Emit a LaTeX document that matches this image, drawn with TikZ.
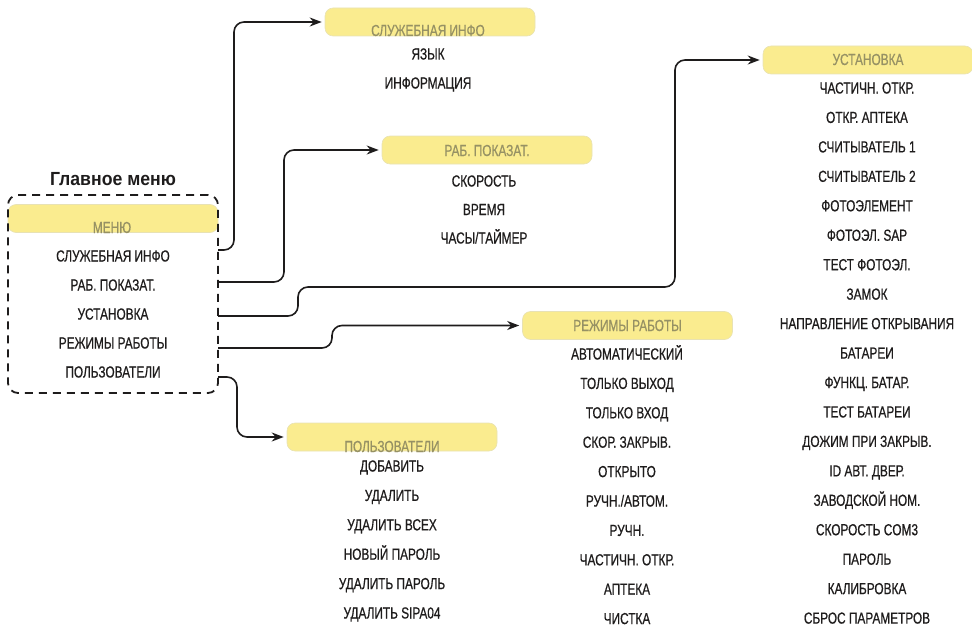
\documentclass[tikz,border=0pt]{standalone}
\usepackage{fontspec}
\setmainfont{Liberation Sans}[FakeStretch=0.74, FakeBold=0.6]
\newfontfamily\titlefont{Liberation Sans}[FakeStretch=0.93]
\usetikzlibrary{arrows.meta}
\definecolor{ybox}{RGB}{250,236,143}
\definecolor{yline}{RGB}{232,226,180}
\definecolor{htext}{RGB}{150,145,100}
\definecolor{itext}{RGB}{30,28,28}
\begin{document}
\begin{tikzpicture}[x=1pt,y=-1pt,
  hdr/.style={draw=yline, fill=ybox, rounded corners=8pt, minimum width=210pt, minimum height=28pt, inner sep=0pt, line width=0.6pt},
  hdrtext/.style={text=htext, font=\fontsize{16}{19}\selectfont, inner sep=0pt, anchor=base},
  item/.style={text=itext, font=\fontsize{16}{19}\selectfont, inner sep=0pt, anchor=base},
  conn/.style={draw=itext, line width=1.6pt, rounded corners=10pt, shorten >=3pt, -{Stealth[length=12pt,width=9pt]}},
  mainbox/.style={draw=itext, line width=1.8pt, dash pattern=on 8pt off 6pt, rounded corners=10pt, minimum width=210pt, minimum height=198pt, inner sep=0pt},
]
\useasboundingbox (0,0) rectangle (972,626);
% title
\node[text=itext, font=\titlefont\bfseries\fontsize{19}{22}\selectfont, inner sep=0pt, anchor=base] (title) at (113,185) {Главное меню};
% header boxes
\node[hdr] (b0) at (113,218.5) {};
\node[hdr] (b1) at (430,22) {};
\node[hdr] (b2) at (487,150) {};
\node[hdr] (b3) at (868,60) {};
\node[hdr] (b4) at (627.5,325.5) {};
\node[hdr] (b5) at (392,437) {};
\node[hdrtext] (h0) at (112,233) {МЕНЮ};
\node[hdrtext] (h1) at (428,36) {СЛУЖЕБНАЯ ИНФО};
\node[hdrtext] (h2) at (487,156) {РАБ. ПОКАЗАТ.};
\node[hdrtext] (h3) at (868,65) {УСТАНОВКА};
\node[hdrtext] (h4) at (627.5,331) {РЕЖИМЫ РАБОТЫ};
\node[hdrtext] (h5) at (392,452) {ПОЛЬЗОВАТЕЛИ};
% main dashed box
\node[mainbox] (main) at (113,294) {};
% main items
\foreach \t [count=\i from 0] in {СЛУЖЕБНАЯ ИНФО, РАБ. ПОКАЗАТ., УСТАНОВКА, РЕЖИМЫ РАБОТЫ, ПОЛЬЗОВАТЕЛИ}
  \node[item] (m\i) at (113,{261.5+29*\i}) {\t};
% sub lists
\foreach \t [count=\i from 0] in {ЯЗЫК, ИНФОРМАЦИЯ}
  \node[item] (s\i) at (428,{59.5+29*\i}) {\t};
\foreach \t [count=\i from 0] in {СКОРОСТЬ, ВРЕМЯ, ЧАСЫ/ТАЙМЕР}
  \node[item] (p\i) at (484,{186.5+28.5*\i}) {\t};
\foreach \t [count=\i from 0] in {ЧАСТИЧН. ОТКР., ОТКР. АПТЕКА, СЧИТЫВАТЕЛЬ 1, СЧИТЫВАТЕЛЬ 2, ФОТОЭЛЕМЕНТ, ФОТОЭЛ. SAP, ТЕСТ ФОТОЭЛ., ЗАМОК, НАПРАВЛЕНИЕ ОТКРЫВАНИЯ, БАТАРЕИ, ФУНКЦ. БАТАР., ТЕСТ БАТАРЕИ, ДОЖИМ ПРИ ЗАКРЫВ., ID АВТ. ДВЕР., ЗАВОДСКОЙ НОМ., СКОРОСТЬ COM3, ПАРОЛЬ, КАЛИБРОВКА, СБРОС ПАРАМЕТРОВ}
  \node[item] (u\i) at (867,{93.5+29.45*\i}) {\t};
\foreach \t [count=\i from 0] in {АВТОМАТИЧЕСКИЙ, ТОЛЬКО ВЫХОД, ТОЛЬКО ВХОД, СКОР. ЗАКРЫВ., ОТКРЫТО, РУЧН./АВТОМ., РУЧН., ЧАСТИЧН. ОТКР., АПТЕКА, ЧИСТКА}
  \node[item] (r\i) at (627,{359.5+29.4*\i}) {\t};
\foreach \t [count=\i from 0] in {ДОБАВИТЬ, УДАЛИТЬ, УДАЛИТЬ ВСЕХ, НОВЫЙ ПАРОЛЬ, УДАЛИТЬ ПАРОЛЬ, УДАЛИТЬ SIPA04}
  \node[item] (q\i) at (392,{471.5+29.4*\i}) {\t};
% connectors
\coordinate (c1) at (218,250);
\coordinate (c2) at (218,282);
\coordinate (c3) at (218,316);
\coordinate (c4) at (218,348);
\coordinate (c5) at (218,377);
\draw[conn] (c1) -- (234,250) -- (234,22) -- (b1.west);
\draw[conn] (c2) -- (284,282) -- (284,150) -- (b2.west);
\draw[conn] (c3) -- (298,316) -- (298,287) -- (675,287) -- (675,60) -- (b3.west);
\draw[conn] (c4) -- (332,348) -- (332,325.5) -- (b4.west);
\draw[conn] (c5) -- (237,377) -- (237,437) -- (b5.west);
\end{tikzpicture}
\end{document}
